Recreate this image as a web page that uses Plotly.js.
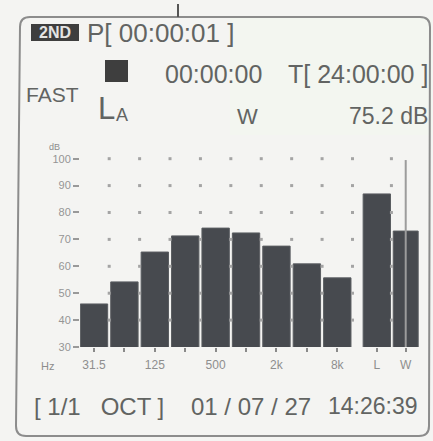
<!DOCTYPE html>
<html><head><meta charset="utf-8">
<script src="https://cdn.plot.ly/plotly-3.0.1.min.js"></script>
<style>html,body{margin:0;padding:0;background:#f4f4f2;overflow:hidden}</style>
</head><body>
<div id="chart" style="width:433px;height:441px"></div>
<script>
// ---- data ----
const bandPos    = [0, 1, 2, 3, 4, 5, 6, 7, 8, 9.3, 10.25];
const bandNames  = ['31.5','63','125','250','500','1k','2k','4k','8k','L','W'];
const tickLabels = ['31.5','','125','','500','','2k','','8k','L','W'];
const levels     = [46.0, 54.2, 65.3, 71.3, 74.2, 72.4, 67.5, 60.9, 55.7, 86.9, 73.1];
const wPeak      = 99.5;
const yTicks     = [30, 40, 50, 60, 70, 80, 90, 100];
const gridX      = [0.5, 1.5, 2.5, 3.5, 4.5, 5.5, 6.5, 7.5, 8.5, 9.78];
const gridY      = [40, 50, 60, 70, 80, 90, 100];

// ---- geometry helpers (pixel -> paper) ----
const W = 433, H = 441;
const M = {l: 80, r: 13, t: 156, b: 94};
const PW = W - M.l - M.r, PH = H - M.t - M.b;
const fx = px => (px - M.l) / PW;
const fy = py => (H - M.b - py) / PH;

const barWidths = bandPos.map((p, i) => i === bandPos.length - 1 ? 0.82 : 0.9);

const dotsX = [], dotsY = [];
gridX.forEach(x => gridY.forEach(y => { dotsX.push(x); dotsY.push(y); }));

const traces = [
  {type: 'scatter', mode: 'markers', x: dotsX, y: dotsY, hoverinfo: 'skip',
   marker: {symbol: 'square', size: 3, color: '#a4a4a4'}, showlegend: false},
  {type: 'bar', x: bandPos, y: levels, width: barWidths, text: bandNames, hoverinfo: 'text+y',
   textposition: 'none',
   marker: {color: '#474a4f', line: {color: '#5a5d61', width: 1}}, showlegend: false},
  {type: 'scatter', mode: 'lines', x: [bandPos[10], bandPos[10]], y: [30, wPeak],
   line: {color: '#9c9c9c', width: 2}, hoverinfo: 'skip', showlegend: false}
];

const txt = '#626462';
function ann(text, px, py, size, o) {
  o = o || {};
  return {text: text, xref: 'paper', yref: 'paper', x: fx(px), y: fy(py),
    xanchor: o.xa || 'left', yanchor: o.ya || 'middle', showarrow: false, borderpad: 0,
    font: {family: o.fam || 'Liberation Sans, Arial, sans-serif', size: size, color: o.color || txt}};
}

const r = 10;
const TL = [20, 17], TR = [430, 17], BR = [429, 436], BL = [16, 436];
const P = (x, y) => fx(x) + ',' + fy(y);
const framePath = 'M' + P(TL[0] + r, TL[1]) + ' L' + P(TR[0] - r, TR[1]) +
  ' Q' + P(TR[0], TR[1]) + ' ' + P(TR[0], TR[1] + r) +
  ' L' + P(BR[0], BR[1] - r) + ' Q' + P(BR[0], BR[1]) + ' ' + P(BR[0] - r, BR[1]) +
  ' L' + P(BL[0] + r, BL[1]) + ' Q' + P(BL[0], BL[1]) + ' ' + P(BL[0], BL[1] - r) +
  ' L' + P(TL[0], TL[1] + r) + ' Q' + P(TL[0], TL[1]) + ' ' + P(TL[0] + r, TL[1]) + ' Z';

const shapes = [
  {type: 'rect', xref: 'paper', yref: 'paper', x0: fx(230), x1: fx(432), y0: fy(135), y1: fy(18),
   fillcolor: '#f3f6f0', line: {width: 0}, layer: 'below'},
  {type: 'path', xref: 'paper', yref: 'paper', path: framePath, line: {color: '#8c8c8c', width: 2}},
  {type: 'rect', xref: 'paper', yref: 'paper', x0: fx(31), x1: fx(79), y0: fy(41), y1: fy(24),
   fillcolor: '#3e3e3e', line: {width: 0}},
  {type: 'rect', xref: 'paper', yref: 'paper', x0: fx(105), x1: fx(128), y0: fy(82), y1: fy(60),
   fillcolor: '#3e3e3e', line: {width: 0}},
  {type: 'line', xref: 'paper', yref: 'paper', x0: fx(178), x1: fx(178), y0: fy(4), y1: fy(17),
   line: {color: '#555', width: 2}}
];

const annotations = [
  ann('<b>2ND</b>', 55, 33, 16, {xa: 'center', color: '#e4e4e4'}),
  ann('P[ 00:00:01 ]', 86, 33, 26),
  ann('00:00:00', 164, 74, 25),
  ann('T[ 24:00:00 ]', 429, 74, 25, {xa: 'right'}),
  ann('FAST', 25, 94, 21),
  ann('L', 97, 108, 31),
  ann('A', 115, 115, 18),
  ann('W', 247, 116, 22, {xa: 'center'}),
  ann('75.2 dB', 429, 116, 23, {xa: 'right'}),
  ann('dB', 54, 147, 9, {xa: 'center', color: '#8c8c8c'}),
  ann('Hz', 47, 366, 11, {xa: 'center', color: '#8c8c8c'}),
  ann('[ 1/1   OCT ]', 33, 406, 24),
  ann('01 / 07 / 27', 190, 406, 24),
  ann('14:26:39', 419, 406, 23, {xa: 'right'})
];

const layout = {
  width: W, height: H, margin: M, autosize: false,
  paper_bgcolor: '#f4f4f2', plot_bgcolor: 'rgba(0,0,0,0)',
  bargap: 0.1, showlegend: false,
  xaxis: {range: [-0.46, 10.72], tickvals: bandPos, ticktext: tickLabels,
    showgrid: false, zeroline: false, showline: false, fixedrange: true,
    ticks: 'outside', ticklen: 4, tickwidth: 2, tickcolor: '#8a8a8a', ticklabelstandoff: 3,
    tickfont: {family: 'Liberation Sans, Arial, sans-serif', size: 12, color: '#8e8e8e'}},
  yaxis: {range: [30, 101], tickvals: yTicks, ticktext: yTicks.map(String),
    showgrid: false, zeroline: false, showline: false, fixedrange: true,
    ticks: 'outside', ticklen: 6, tickwidth: 2, tickcolor: '#999',
    tickfont: {family: 'Liberation Sans, Arial, sans-serif', size: 11, color: '#959595'}},
  shapes: shapes, annotations: annotations
};

Plotly.newPlot('chart', traces, layout, {displayModeBar: false, staticPlot: true});
</script>
</body></html>
